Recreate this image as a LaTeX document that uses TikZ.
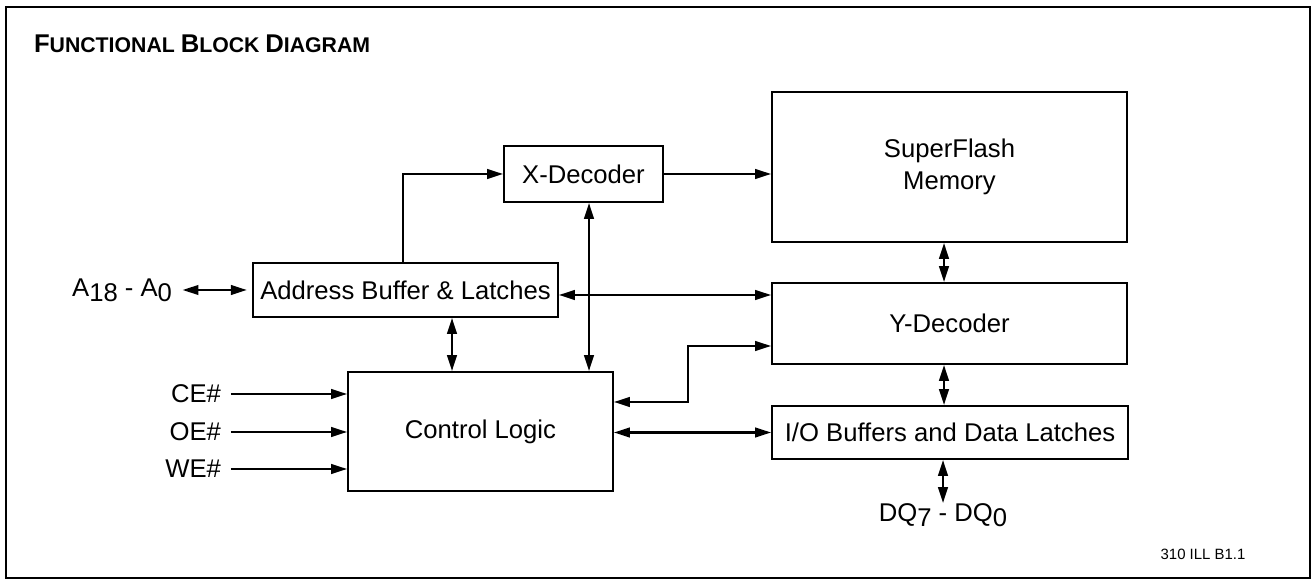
\documentclass[tikz,border=0pt]{standalone}
\usepackage{fontspec}
\setmainfont{Liberation Sans}
\usetikzlibrary{arrows.meta}
\newcommand{\lowdigit}[1]{\raisebox{-2.8pt}{#1}}
\begin{document}
\begin{tikzpicture}[x=0.02cm,y=-0.02cm,line width=1.15pt,
    >={Triangle[length=9pt,width=5.5pt]},
    block/.style={draw,rectangle,inner sep=0pt,align=center,
      font=\fontsize{14.6}{18}\selectfont},
    pin/.style={inner sep=0pt,font=\fontsize{14.6}{18}\selectfont}]
          \useasboundingbox (0,0) rectangle (1316,580);
          \draw[line width=1.6pt] (6,7) rectangle (1310,578);
          \node[anchor=west,inner sep=0pt,font=\bfseries] (title) at (33,44)
            {\fontsize{14.6}{17}\selectfont F\fontsize{12.1}{14}\selectfont UNCTIONAL
             \fontsize{14.6}{17}\selectfont B\fontsize{12.1}{14}\selectfont LOCK
             \fontsize{14.6}{17}\selectfont D\fontsize{12.1}{14}\selectfont IAGRAM};
          \node[block,minimum width=3.18cm,minimum height=1.12cm] (XDec) at (583.5,174) {X-Decoder};
          \node[block,minimum width=7.1cm,minimum height=3cm] (Mem) at (949.5,167) {SuperFlash\\Memory};
          \node[block,minimum width=6.1cm,minimum height=1.08cm] (Addr) at (405.5,290) {Address Buffer \& Latches};
          \node[block,minimum width=7.1cm,minimum height=1.62cm] (YDec) at (949.5,323.5) {Y-Decoder};
          \node[block,minimum width=5.3cm,minimum height=2.38cm] (Ctrl) at (480.5,431.5) {Control Logic};
          \node[block,minimum width=7.12cm,minimum height=1.06cm] (IO) at (950,432.5) {I/O Buffers and Data Latches};
          \node[pin,anchor=east] (A) at (173,290) {A\lowdigit{18} - A\lowdigit{0}};
          \node[pin,anchor=east] (CE) at (222,394) {CE\#};
          \node[pin,anchor=east] (OE) at (222,432) {OE\#};
          \node[pin,anchor=east] (WE) at (222,469) {WE\#};
          \node[pin,anchor=north] (DQ) at (943,503) {DQ\lowdigit{7} - DQ\lowdigit{0}};
          \node[inner sep=0pt,font=\fontsize{8.5}{10}\selectfont] (ref) at (1203,554) {310 ILL B1.1};
          \draw[<->,shorten <=5.5pt,shorten >=3pt] (A.east) -- (Addr.west);
          \draw[->,shorten <=5pt] (CE.east) -- (CE.east -| Ctrl.west);
          \draw[->,shorten <=5pt] (OE.east) -- (OE.east -| Ctrl.west);
          \draw[->,shorten <=5pt] (WE.east) -- (WE.east -| Ctrl.west);
          \draw[->] (Addr.north -| 403,0) |- (XDec.west);
          \draw[->] (XDec.east) -- (XDec.east -| Mem.west);
          \draw[<->] (XDec.south -| 589,0) -- (Ctrl.north -| 589,0);
          \draw[<->] (Addr.south -| 452,0) -- (Ctrl.north -| 452,0);
          \draw[<->] (Addr.east |- 0,295) -- (YDec.west |- 0,295);
          \draw[<->] (Ctrl.east |- 0,402) -- (688,402) -- (688,346) -- (YDec.west |- 0,346);
          \draw[<->] (Ctrl.east |- IO.west) -- (IO.west);
          \draw[<->] (Mem.south -| 944,0) -- (YDec.north -| 944,0);
          \draw[<->] (YDec.south -| 944,0) -- (IO.north -| 944,0);
          \draw[<->] (IO.south -| DQ.north) -- (DQ.north);
        \end{tikzpicture}
\end{document}
